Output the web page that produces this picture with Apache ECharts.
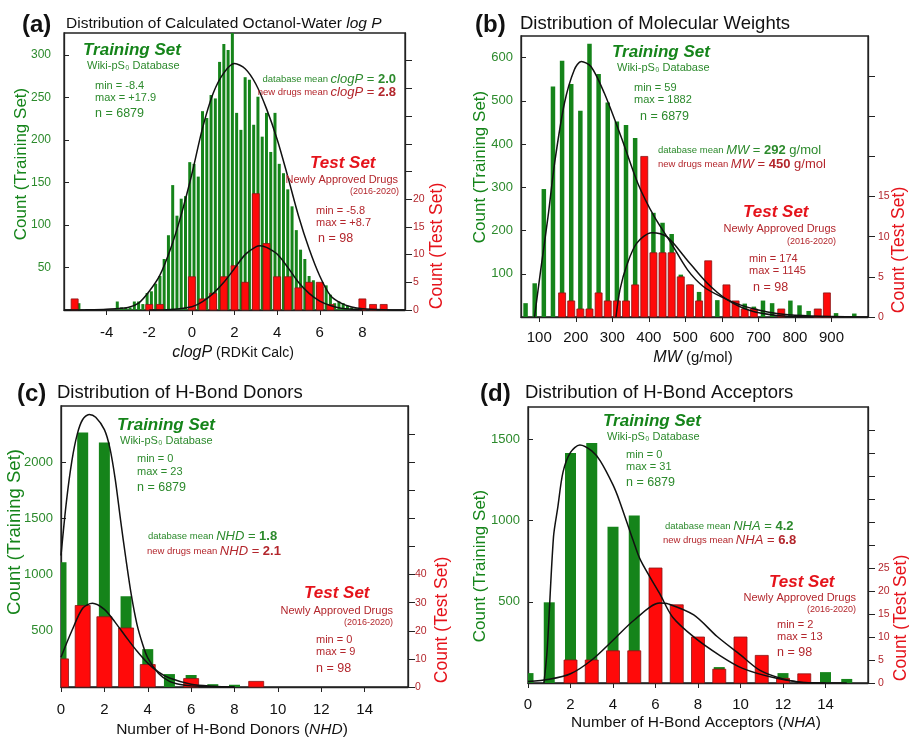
<!DOCTYPE html>
<html>
<head>
<meta charset="utf-8">
<script src="https://cdn.jsdelivr.net/npm/echarts@6/dist/echarts.min.js"></script>
<style>
html, body { margin: 0; padding: 0; background: #fff; }
#main { width: 909px; height: 738px; }
</style>
</head>
<body>
<div id="main"></div>
<script>
// ---------- (a) clogP : [bin centre, count] ----------
var trainA = [[-5.3,8],[-3.5,10],[-3.3,3],[-3.1,3],[-2.9,3],[-2.7,10],[-2.5,10],[-2.3,7],[-2.1,20],[-1.9,22],
  [-1.7,31],[-1.5,40],[-1.3,60],[-1.1,88],[-0.9,147],[-0.7,111],[-0.5,131],[-0.3,134],[-0.1,174],[0.1,172],
  [0.3,157],[0.5,234],[0.7,226],[0.9,253],[1.1,249],[1.3,292],[1.5,313],[1.7,306],[1.9,330],[2.1,232],
  [2.3,212],[2.5,274],[2.7,271],[2.9,218],[3.1,251],[3.3,204],[3.5,232],[3.7,186],[3.9,232],[4.1,172],
  [4.3,161],[4.5,142],[4.7,122],[4.9,94],[5.1,71],[5.3,60],[5.5,40],[5.7,35],[5.9,29],[6.1,27],
  [6.3,29],[6.5,18],[6.7,8],[6.9,10],[7.1,8],[7.3,5],[7.5,3],[7.7,2]];
var testA = [[-5.5,2],[-2,1],[-1.5,1],[0,6],[0.5,2],[1,3],[1.5,6],[2,8],[2.5,5],[3,21],[3.5,12],
  [4,6],[4.5,6],[5,4],[5.5,5],[6,5],[6.5,1],[8,2],[8.5,1],[9,1]];
var fitTrainA = [[-6,0],[-5,0.3],[-4,1],[-3,3],[-2.5,8],[-2,22],[-1.5,41],[-1,72],[-0.5,112],[0,160],
  [0.5,214],[1,255],[1.5,279],[2,290],[2.5,284],[3,266],[3.5,237],[4,201],[4.5,157],[5,111],[5.5,72],
  [6,40],[6.5,17],[7,8],[7.5,3.5],[8,1.5],[9,0.3],[10,0]];
var fitTestA = [[-2,0],[-1,0.1],[0,0.6],[0.5,1.5],[1,3],[1.5,5],[2,7.5],[2.5,10],[3,11.4],[3.2,11.6],
  [3.5,11.3],[4,10.1],[4.5,7.7],[5,5],[5.5,3],[6,1.6],[6.5,0.8],[7,0.3],[8,0]];

// ---------- (b) MW ----------
var trainB = [[62.5,32],[87.5,78],[112.5,296],[137.5,533],[162.5,593],[187.5,539],[212.5,477],[237.5,632],
  [262.5,562],[287.5,496],[312.5,452],[337.5,444],[362.5,414],[387.5,360],[412.5,241],[437.5,218],
  [462.5,192],[487.5,98],[512.5,75],[537.5,58],[562.5,45],[587.5,39],[612.5,35],[637.5,33],[662.5,31],
  [687.5,24],[712.5,38],[737.5,32],[762.5,15],[787.5,38],[812.5,27],[837.5,14],[862.5,10],[887.5,10],
  [912.5,9],[962.5,8]];
var testB = [[162.5,3],[187.5,2],[212.5,1],[237.5,1],[262.5,3],[287.5,2],[312.5,2],[337.5,2],[362.5,4],
  [387.5,20],[412.5,8],[437.5,8],[462.5,8],[487.5,5],[512.5,4],[537.5,2],[562.5,7],[612.5,4],[637.5,2],
  [662.5,1],[687.5,1],[762.5,1],[862.5,1],[887.5,3]];
var fitTrainB = [[87,0],[104,109],[124,232],[142,356],[169,495],[196,572],[215,591],[242,579],[278,518],
  [324,417],[370,309],[415,232],[461,171],[506,109],[550,70],[600,46],[650,28],[700,16],[750,8],
  [800,4],[900,1],[1000,0]];
var fitTestB = [[310,0],[321,3.4],[340,6.5],[367,9.2],[408,10.5],[449,10],[503,7.2],[558,4.3],
  [613,2.2],[677,0.8],[750,0.2],[850,0]];

// ---------- (c) H-bond donors ----------
var trainC = [[0,1110],[1,2265],[2,2176],[3,808],[4,337],[5,115],[6,107],[7,25],[8,20]];
var testC = [[0,10],[1,29],[2,25],[3,21],[4,8],[6,3],[9,2]];
var fitTrainC = [[0,1170],[0.25,1650],[0.5,2010],[0.75,2250],[1,2380],[1.3,2425],[1.6,2400],[2,2290],
  [2.25,2130],[2.5,1850],[2.75,1480],[3,1130],[3.25,810],[3.5,560],[3.75,390],[4,260],[4.5,120],
  [5,50],[5.5,22],[6,10],[7,2],[8,0]];
var fitTestC = [[0,10.6],[0.5,20],[1,28],[1.45,29.8],[2,27.6],[2.5,23],[3,17.8],[3.5,12.8],[4,8.5],
  [4.5,5.3],[5,3.2],[6,1],[7,0.3],[8,0]];

// ---------- (d) H-bond acceptors ----------
var trainD = [[0,61],[1,497],[2,1417],[3,1478],[4,963],[5,1031],[6,600],[7,300],[8,150],[9,98],
  [10,80],[11,30],[12,61],[13,20],[14,67],[15,25]];
var testD = [[2,5],[3,5],[4,7],[5,7],[6,25],[7,17],[8,10],[9,3],[10,10],[11,6],[12,1],[13,2]];
var fitTrainD = [[0.75,0],[0.9,200],[1.2,900],[1.4,1080],[1.65,1300],[2,1420],[2.44,1466],[3,1430],
  [3.4,1368],[4,1220],[4.3,1123],[4.95,877],[5.3,755],[6.2,550],[6.8,407],[7.8,284],[9,172],
  [10.1,90],[11.7,29],[13.2,2],[15,0]];
var fitTestD = [[0,0.3],[1,0.8],[2,2],[3,5],[4,9.3],[5,13.7],[6.2,17.4],[6.6,17.2],[7.8,14.8],
  [8.9,10.1],[10,6.1],[10.9,2.8],[12,0.9],[13.2,0],[14,0]];

// tick positions
var ticksXA = [-4, -2, 0, 2, 4, 6, 8];
var ticksXB = [100, 200, 300, 400, 500, 600, 700, 800, 900];
var ticksXCD = [0, 2, 4, 6, 8, 10, 12, 14];
var ticksLA = [50, 100, 150, 200, 250, 300];
var ticksLB = [100, 200, 300, 400, 500, 600];
var ticksLC = [500, 1000, 1500, 2000];
var ticksLD = [500, 1000, 1500];
var ticksRA = [0, 5, 10, 15, 20, 25, 30, 35, 40, 45];
var labelsRA = [0, 5, 10, 15, 20];
var ticksRB = [0, 5, 10, 15, 20, 25, 30];
var labelsRB = [0, 5, 10, 15];
var ticksRC = [0, 10, 20, 30, 40, 50, 60, 70, 80, 90];
var labelsRC = [0, 10, 20, 30, 40];
var ticksRD = [0, 5, 10, 15, 20, 25, 30, 35, 40, 45, 50, 55];
var labelsRD = [0, 5, 10, 15, 20, 25];

var FONT = '"Liberation Sans", Arial, Helvetica, sans-serif';
var GREEN = '#15841a';
var GREEN_TXT = '#2c8a2c';
var RED = '#ff0a0a';
var RED_TXT = '#b3262c';
var RED_HEAD = '#e5131b';

var panels = [
  {box: [64, 33, 341, 277], x: [-6, 10], xt: ticksXA, yl: 326, ylt: ticksLA, yr: 50, yrt: ticksRA, yrl: labelsRA,
   train: trainA, test: testA, fitTrain: fitTrainA, fitTest: fitTestA, bw: [3, 7], lm: 13, rm: 8, xm: 15, lf: 12},
  {box: [521, 36, 347, 281], x: [50, 1000], xt: ticksXB, yl: 650, ylt: ticksLB, yr: 35, yrt: ticksRB, yrl: labelsRB,
   train: trainB, test: testB, fitTrain: fitTrainB, fitTest: fitTestB, bw: [4.5, 7], lm: 8, rm: 10, xm: 13, lf: 13},
  {box: [61, 406, 347, 281], x: [0, 16], xt: ticksXCD, yl: 2500, ylt: ticksLC, yr: 100, yrt: ticksRC, yrl: labelsRC,
   train: trainC, test: testC, fitTrain: fitTrainC, fitTest: fitTestC, bw: [11, 15], lm: 8, rm: 7, xm: 15, lf: 13},
  {box: [528, 407, 340, 276], x: [0, 16], xt: ticksXCD, yl: 1700, ylt: ticksLD, yr: 60, yrt: ticksRD, yrl: labelsRD,
   train: trainD, test: testD, fitTrain: fitTrainD, fitTest: fitTestD, bw: [11, 13], lm: 8, rm: 10, xm: 14, lf: 13}
];

function plain(v) { return String(v); }

// histogram bar drawn through the axes, cut at the plot frame
function barRender(width) {
  return function (params, api) {
    var top = api.coord([api.value(0), api.value(1)]);
    var base = api.coord([api.value(0), 0]);
    var cs = params.coordSys;
    var shape = echarts.graphic.clipRectByRect(
      {x: top[0] - width / 2, y: top[1], width: width, height: base[1] - top[1]},
      {x: cs.x, y: cs.y, width: cs.width, height: cs.height});
    if (!shape) return null;
    return {type: 'rect', shape: shape, style: api.style()};
  };
}

var grid = [], xAxis = [], yAxis = [], series = [];
panels.forEach(function (p, i) {
  grid.push({left: p.box[0], top: p.box[1], width: p.box[2], height: p.box[3],
    show: true, borderColor: '#222', borderWidth: 1.3, backgroundColor: 'transparent'});
  xAxis.push({type: 'value', gridIndex: i, min: p.x[0], max: p.x[1],
    axisLine: {show: true, onZero: false, lineStyle: {color: '#222', width: 1.3}},
    axisTick: {show: true, customValues: p.xt, length: 5, lineStyle: {color: '#222'}},
    axisLabel: {customValues: p.xt, formatter: plain, color: '#111', fontSize: 15, fontFamily: FONT, margin: p.xm},
    splitLine: {show: false}});
  yAxis.push({type: 'value', gridIndex: i, position: 'left', min: 0, max: p.yl,
    axisLine: {show: true, onZero: false, lineStyle: {color: '#222', width: 1.3}},
    axisTick: {show: true, inside: true, customValues: p.ylt, length: 5, lineStyle: {color: '#222'}},
    axisLabel: {customValues: p.ylt, formatter: plain, color: GREEN_TXT, fontSize: p.lf, fontFamily: FONT, margin: p.lm},
    splitLine: {show: false}});
  yAxis.push({type: 'value', gridIndex: i, position: 'right', min: 0, max: p.yr,
    axisLine: {show: true, onZero: false, lineStyle: {color: '#222', width: 1.3}},
    axisTick: {show: true, customValues: p.yrt, length: 7, lineStyle: {color: '#222'}},
    axisLabel: {customValues: p.yrl, formatter: plain, color: RED_TXT, fontSize: 10.5, fontFamily: FONT, margin: p.rm},
    splitLine: {show: false}});
  series.push({type: 'custom', xAxisIndex: i, yAxisIndex: 2 * i, data: p.train, renderItem: barRender(p.bw[0]),
    encode: {x: 0, y: 1}, itemStyle: {color: GREEN}, z: 2, animation: false, silent: true});
  series.push({type: 'custom', xAxisIndex: i, yAxisIndex: 2 * i + 1, data: p.test, renderItem: barRender(p.bw[1]),
    encode: {x: 0, y: 1}, itemStyle: {color: RED, borderColor: '#8a1515', borderWidth: 0.8}, z: 3,
    animation: false, silent: true});
  series.push({type: 'line', xAxisIndex: i, yAxisIndex: 2 * i, data: p.fitTrain, smooth: 0.3, clip: true,
    showSymbol: false, symbol: 'none', lineStyle: {color: '#111', width: 1.5}, z: 5, animation: false});
  series.push({type: 'line', xAxisIndex: i, yAxisIndex: 2 * i + 1, data: p.fitTest, smooth: 0.3, clip: true,
    showSymbol: false, symbol: 'none', lineStyle: {color: '#111', width: 1.5}, z: 5, animation: false});
});

function t(x, y, text, size, color, extra) {
  var st = {text: text, fontFamily: FONT, fontSize: size, fill: color, align: 'left', verticalAlign: 'middle'};
  var el = {type: 'text', x: x, y: y, z: 100, silent: true, style: st};
  if (extra) {
    for (var k in extra) {
      if (k === 'rotation') el.rotation = extra[k];
      else st[k] = extra[k];
    }
  }
  return el;
}
function r(fs, color, more) {
  var o = {fontSize: fs, fill: color, fontFamily: FONT};
  if (more) for (var k in more) o[k] = more[k];
  return o;
}
function meanRich(color) {
  return {s: r(9.5, color), i: r(13, color, {fontStyle: 'italic'}), e: r(13, color),
    b: r(13, color, {fontWeight: 'bold'}), u: r(13, color)};
}
var bi = {fontWeight: 'bold', fontStyle: 'italic'};
var V = Math.PI / 2;

var graphic = [
  // titles
  t(22, 25, '(a)', 24, '#111', {fontWeight: 'bold'}),
  t(66, 24, '{n|Distribution of Calculated Octanol-Water }{i|log P}', 15.5, '#111',
    {rich: {n: r(15.5, '#111'), i: r(15.5, '#111', {fontStyle: 'italic'})}}),
  t(475, 25, '(b)', 24, '#111', {fontWeight: 'bold'}),
  t(520, 24, 'Distribution of Molecular Weights', 18.5, '#111'),
  t(17, 394, '(c)', 24, '#111', {fontWeight: 'bold'}),
  t(57, 393, 'Distribution of H-Bond Donors', 18.5, '#111'),
  t(480, 394, '(d)', 24, '#111', {fontWeight: 'bold'}),
  t(525, 393, 'Distribution of H-Bond Acceptors', 18.5, '#111'),

  // axis names
  t(21, 164, 'Count (Training Set)', 17, GREEN, {rotation: V, align: 'center'}),
  t(437, 246, 'Count (Test Set)', 17.5, RED_HEAD, {rotation: V, align: 'center'}),
  t(233, 353, '{i|clogP}{n| (RDKit Calc)}', 15, '#111',
    {align: 'center', rich: {i: r(16, '#111', {fontStyle: 'italic'}), n: r(14, '#111')}}),
  t(480, 167, 'Count (Training Set)', 17, GREEN, {rotation: V, align: 'center'}),
  t(899, 250, 'Count (Test Set)', 17.5, RED_HEAD, {rotation: V, align: 'center'}),
  t(693, 358, '{i|MW}{n| (g/mol)}', 15, '#111',
    {align: 'center', rich: {i: r(16, '#111', {fontStyle: 'italic'}), n: r(15, '#111')}}),
  t(15, 532, 'Count (Training Set)', 18.5, GREEN, {rotation: V, align: 'center'}),
  t(442, 620, 'Count (Test Set)', 17.5, RED_HEAD, {rotation: V, align: 'center'}),
  t(232, 730, '{n|Number of H-Bond Donors (}{i|NHD}{n|)}', 15.5, '#111',
    {align: 'center', rich: {i: r(15.5, '#111', {fontStyle: 'italic'}), n: r(15.5, '#111')}}),
  t(480, 566, 'Count (Training Set)', 17, GREEN, {rotation: V, align: 'center'}),
  t(901, 618, 'Count (Test Set)', 17.5, RED_HEAD, {rotation: V, align: 'center'}),
  t(696, 723, '{n|Number of H-Bond Acceptors (}{i|NHA}{n|)}', 15.5, '#111',
    {align: 'center', rich: {i: r(15.5, '#111', {fontStyle: 'italic'}), n: r(15.5, '#111')}}),

  // (a) notes
  t(83, 50, 'Training Set', 17, GREEN, bi),
  t(87, 66, 'Wiki-pS\u2080 Database', 11, GREEN_TXT),
  t(95, 86, 'min = -8.4', 11, GREEN_TXT),
  t(95, 98, 'max = +17.9', 11, GREEN_TXT),
  t(95, 114, 'n = 6879', 12.5, GREEN_TXT),
  t(396, 79, '{s|database mean }{i|clogP}{e| = }{b|2.0}', 13, GREEN_TXT, {align: 'right', rich: meanRich(GREEN_TXT)}),
  t(396, 92, '{s|new drugs mean }{i|clogP}{e| = }{b|2.8}', 13, RED_TXT, {align: 'right', rich: meanRich(RED_TXT)}),
  t(310, 163, 'Test Set', 17, RED_HEAD, bi),
  t(398, 180, 'Newly Approved Drugs', 11, RED_TXT, {align: 'right'}),
  t(399, 192, '(2016-2020)', 9, RED_TXT, {align: 'right'}),
  t(316, 211, 'min = -5.8', 11, RED_TXT),
  t(316, 223, 'max = +8.7', 11, RED_TXT),
  t(318, 239, 'n = 98', 12.5, RED_TXT),

  // (b) notes
  t(612, 52, 'Training Set', 17, GREEN, bi),
  t(617, 68, 'Wiki-pS\u2080 Database', 11, GREEN_TXT),
  t(634, 88, 'min = 59', 11, GREEN_TXT),
  t(634, 100, 'max = 1882', 11, GREEN_TXT),
  t(640, 117, 'n = 6879', 12.5, GREEN_TXT),
  t(658, 150, '{s|database mean }{i|MW}{e| = }{b|292}{u| g/mol}', 13, GREEN_TXT, {rich: meanRich(GREEN_TXT)}),
  t(658, 164, '{s|new drugs mean }{i|MW}{e| = }{b|450}{u| g/mol}', 13, RED_TXT, {rich: meanRich(RED_TXT)}),
  t(743, 212, 'Test Set', 17, RED_HEAD, bi),
  t(836, 229, 'Newly Approved Drugs', 11, RED_TXT, {align: 'right'}),
  t(836, 242, '(2016-2020)', 9, RED_TXT, {align: 'right'}),
  t(749, 259, 'min = 174', 11, RED_TXT),
  t(749, 271, 'max = 1145', 11, RED_TXT),
  t(753, 288, 'n = 98', 12.5, RED_TXT),

  // (c) notes
  t(117, 425, 'Training Set', 17, GREEN, bi),
  t(120, 441, 'Wiki-pS\u2080 Database', 11, GREEN_TXT),
  t(137, 459, 'min = 0', 11, GREEN_TXT),
  t(137, 472, 'max = 23', 11, GREEN_TXT),
  t(137, 488, 'n = 6879', 12.5, GREEN_TXT),
  t(148, 536, '{s|database mean }{i|NHD}{e| = }{b|1.8}', 13, GREEN_TXT, {rich: meanRich(GREEN_TXT)}),
  t(147, 551, '{s|new drugs mean }{i|NHD}{e| = }{b|2.1}', 13, RED_TXT, {rich: meanRich(RED_TXT)}),
  t(304, 593, 'Test Set', 17, RED_HEAD, bi),
  t(393, 611, 'Newly Approved Drugs', 11, RED_TXT, {align: 'right'}),
  t(393, 623, '(2016-2020)', 9, RED_TXT, {align: 'right'}),
  t(316, 640, 'min = 0', 11, RED_TXT),
  t(316, 652, 'max = 9', 11, RED_TXT),
  t(316, 669, 'n = 98', 12.5, RED_TXT),

  // (d) notes
  t(603, 421, 'Training Set', 17, GREEN, bi),
  t(607, 437, 'Wiki-pS\u2080 Database', 11, GREEN_TXT),
  t(626, 455, 'min = 0', 11, GREEN_TXT),
  t(626, 467, 'max = 31', 11, GREEN_TXT),
  t(626, 483, 'n = 6879', 12.5, GREEN_TXT),
  t(665, 526, '{s|database mean }{i|NHA}{e| = }{b|4.2}', 13, GREEN_TXT, {rich: meanRich(GREEN_TXT)}),
  t(663, 540, '{s|new drugs mean }{i|NHA}{e| = }{b|6.8}', 13, RED_TXT, {rich: meanRich(RED_TXT)}),
  t(769, 582, 'Test Set', 17, RED_HEAD, bi),
  t(856, 598, 'Newly Approved Drugs', 11, RED_TXT, {align: 'right'}),
  t(856, 610, '(2016-2020)', 9, RED_TXT, {align: 'right'}),
  t(777, 625, 'min = 2', 11, RED_TXT),
  t(777, 637, 'max = 13', 11, RED_TXT),
  t(777, 653, 'n = 98', 12.5, RED_TXT)
];

var chart = echarts.init(document.getElementById('main'), null, {renderer: 'canvas'});
chart.setOption({
  animation: false,
  backgroundColor: '#fff',
  textStyle: {fontFamily: FONT},
  grid: grid,
  xAxis: xAxis,
  yAxis: yAxis,
  series: series,
  graphic: graphic
});
</script>
</body>
</html>
